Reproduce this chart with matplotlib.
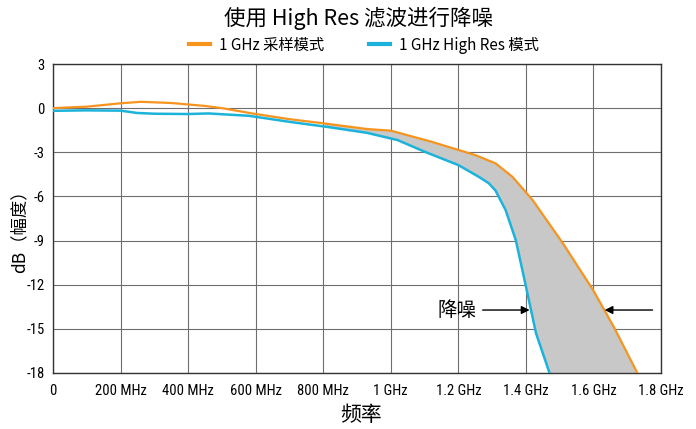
import matplotlib
matplotlib.use("Agg")
import matplotlib.pyplot as plt
from matplotlib import font_manager
import numpy as np

# ---- data (GHz, dB) ----
orange_f = [0.0, 0.1, 0.2, 0.26, 0.35, 0.45, 0.5, 0.6, 0.7, 0.8, 0.93, 1.0, 1.12, 1.25, 1.31, 1.36, 1.42, 1.51, 1.6, 1.66, 1.73]
orange_db = [0.0, 0.1, 0.33, 0.43, 0.35, 0.15, 0.0, -0.4, -0.75, -1.03, -1.42, -1.53, -2.28, -3.19, -3.75, -4.66, -6.25, -9.2, -12.4, -14.86, -18.0]
blue_f = [0.0, 0.1, 0.2, 0.25, 0.3, 0.4, 0.46, 0.58, 0.7, 0.81, 0.93, 1.02, 1.1, 1.2, 1.26, 1.29, 1.31, 1.34, 1.37, 1.4, 1.43, 1.47]
blue_db = [-0.18, -0.15, -0.17, -0.33, -0.38, -0.4, -0.36, -0.52, -0.93, -1.27, -1.68, -2.17, -2.96, -3.87, -4.66, -5.1, -5.6, -6.93, -8.96, -12.1, -15.3, -18.0]

x_ticks = [0, 0.2, 0.4, 0.6, 0.8, 1.0, 1.2, 1.4, 1.6, 1.8]
x_labels = ["0", "200 MHz", "400 MHz", "600 MHz", "800 MHz", "1 GHz", "1.2 GHz", "1.4 GHz", "1.6 GHz", "1.8 GHz"]
y_ticks = [3, 0, -3, -6, -9, -12, -15, -18]

title = "使用 High Res 滤波进行降噪"
legend_labels = ["1 GHz 采样模式", "1 GHz High Res 模式"]
xlabel = "频率"
ylabel = "dB（幅度）"
annot = "降噪"
fill_start = 0.75

ORANGE = "#f7941d"
BLUE = "#1bb3d9"
CJK = ["Noto Sans CJK SC", "DejaVu Sans"]

# pick a narrow sans if one is installed
names = {f.name for f in font_manager.fontManager.ttflist}
narrow_pref = ["Liberation Sans Narrow", "Arial Narrow", "Roboto Condensed", "Open Sans Condensed", "DejaVu Sans Condensed"]
narrow = next((n for n in narrow_pref if n in names), None)
cond_dejavu = any(("DejaVu" in f.name and "ondensed" in f.fname) for f in font_manager.fontManager.ttflist)
if narrow:
    TICKFONT = dict(family=[narrow, "DejaVu Sans"], fontsize=10.5)
elif cond_dejavu:
    TICKFONT = dict(family=["DejaVu Sans"], fontstretch="condensed", fontsize=9.5)
else:
    TICKFONT = dict(family=["Liberation Sans"], fontsize=9.5)

plt.rcParams['font.family'] = CJK

fig = plt.figure(figsize=(6.96, 4.29), dpi=100)
ax = fig.add_axes([53/696, 1-373/429, (661-53)/696, (373-64)/429])

of = np.array(orange_f); od = np.array(orange_db)
bf = np.array(blue_f); bd = np.array(blue_db)
mo = of >= fill_start
mb = bf >= fill_start
px = np.concatenate([of[mo], bf[mb][::-1]])
py = np.concatenate([od[mo], bd[mb][::-1]])
ax.fill(px, py, color="#c8c8c8", lw=0, zorder=1)

lo, = ax.plot(of, od, color=ORANGE, lw=1.6, zorder=3, solid_joinstyle='round')
lb, = ax.plot(bf, bd, color=BLUE, lw=1.8, zorder=3, solid_joinstyle='round')

ax.set_xlim(0, 1.8)
ax.set_ylim(-18, 3)
ax.set_xticks(x_ticks)
ax.set_xticklabels(x_labels, **TICKFONT)
ax.set_yticks(y_ticks)
ax.set_yticklabels([str(v) for v in y_ticks], **TICKFONT)
ax.tick_params(axis='x', length=0, pad=8)
ax.tick_params(axis='y', length=0, pad=6)
ax.grid(True, color="#6e6e6e", lw=0.8, zorder=0)
ax.set_axisbelow(True)
for s in ax.spines.values():
    s.set_color("#333333")
    s.set_linewidth(1.0)

fig.text(361/696, 1-415/429, xlabel, ha='center', va='center', fontsize=15)
fig.text(19/696, 1-227/429, ylabel, rotation=90, ha='center', va='center', fontsize=12.5)

fig.text(358/696, 1-18/429, title, ha='center', va='center', fontsize=15.5)

leg = fig.legend([lo, lb], legend_labels, loc='center', bbox_to_anchor=(0.523, 1-45/429),
                 ncol=2, frameon=False, fontsize=11, handlelength=1.4, columnspacing=2.9,
                 handletextpad=0.6)
for h in leg.legend_handles:
    h.set_linewidth(3)

ay = -13.72
ax.text(1.195, ay, annot, ha='center', va='center', fontsize=14)
ax.annotate("", xy=(1.411, ay), xytext=(1.272, ay),
            arrowprops=dict(arrowstyle='-|>', color='black', lw=1.0, mutation_scale=12, shrinkA=0, shrinkB=0))
ax.annotate("", xy=(1.633, ay), xytext=(1.775, ay),
            arrowprops=dict(arrowstyle='-|>', color='black', lw=1.0, mutation_scale=12, shrinkA=0, shrinkB=0))

fig.savefig("out.png", dpi=100)
